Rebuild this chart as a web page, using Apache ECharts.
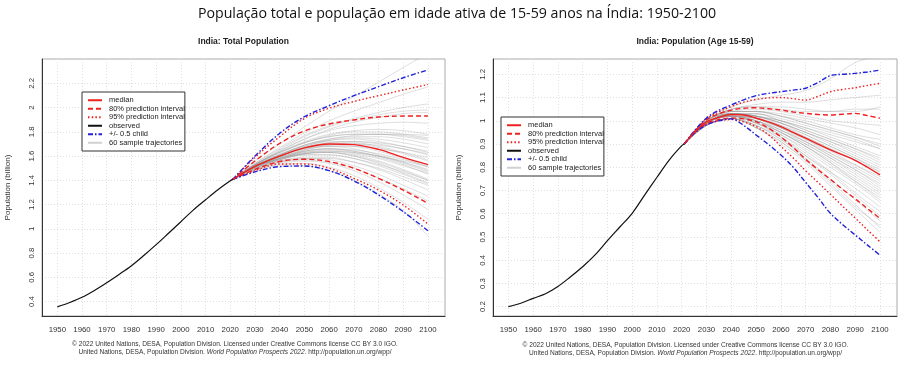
<!DOCTYPE html>
<html><head><meta charset="utf-8">
<script src="https://cdn.jsdelivr.net/npm/echarts@6/dist/echarts.min.js"></script>
<style>html,body{margin:0;padding:0;background:#fff}#c{width:900px;height:375px}</style>
</head><body><div id="c"></div><script>
// ---------- tick labels ----------
const yearTicks = [1950,1960,1970,1980,1990,2000,2010,2020,2030,2040,2050,2060,2070,2080,2090,2100];
const yTicksTotal = [0.4,0.6,0.8,1,1.2,1.4,1.6,1.8,2,2.2];
const yTicksWork = [0.2,0.3,0.4,0.5,0.6,0.7,0.8,0.9,1,1.1,1.2];
const legendNames = ['median','80% prediction interval','95% prediction interval','observed','+/- 0.5 child','60 sample trajectories'];

// ---------- observed ----------
const obsYears = [1950,1955,1960,1965,1970,1975,1980,1985,1990,1995,2000,2005,2010,2015,2020,2021];
const totalObs = [0.357,0.393,0.436,0.493,0.557,0.625,0.697,0.781,0.870,0.964,1.059,1.155,1.240,1.322,1.396,1.408];
const workObs  = [0.200,0.215,0.236,0.256,0.287,0.328,0.372,0.423,0.484,0.543,0.602,0.680,0.757,0.832,0.893,0.900];

// ---------- total population projections (10-year steps) ----------
const projYears10 = [2021,2030,2040,2050,2060,2070,2080,2090,2100];
const totalMedian  = [1.408,1.515,1.600,1.668,1.700,1.695,1.655,1.590,1.530];
const total80Up    = [1.408,1.560,1.705,1.807,1.865,1.898,1.922,1.930,1.930];
const total80Lo    = [1.408,1.490,1.555,1.574,1.555,1.500,1.417,1.320,1.211];
const total95Up    = [1.408,1.590,1.760,1.911,1.994,2.050,2.098,2.145,2.190];
const total95Lo    = [1.408,1.480,1.535,1.535,1.500,1.417,1.320,1.197,1.040];
const totalChildUp = [1.408,1.600,1.788,1.925,2.015,2.098,2.172,2.246,2.310];
const totalChildLo = [1.408,1.470,1.513,1.518,1.480,1.397,1.280,1.142,0.985];

// ---------- working-age projections (5-year steps) ----------
const projYears5 = [2021,2025,2030,2035,2040,2045,2050,2055,2060,2065,2070,2075,2080,2085,2090,2095,2100];
const workMedian  = [0.900,0.950,0.995,1.015,1.027,1.025,1.012,0.995,0.975,0.950,0.925,0.900,0.875,0.853,0.830,0.800,0.767];
const work80Up    = [0.900,0.952,1.005,1.030,1.046,1.054,1.056,1.052,1.046,1.038,1.032,1.027,1.025,1.028,1.032,1.022,1.011];
const work80Lo    = [0.900,0.948,0.988,1.005,1.012,1.008,0.996,0.968,0.931,0.885,0.835,0.790,0.748,0.705,0.665,0.622,0.580];
const work95Up    = [0.900,0.953,1.008,1.038,1.061,1.080,1.092,1.098,1.100,1.095,1.089,1.105,1.125,1.135,1.142,1.152,1.161];
const work95Lo    = [0.900,0.946,0.985,1.000,1.005,0.995,0.975,0.940,0.890,0.840,0.785,0.735,0.684,0.632,0.582,0.530,0.480];
const workChildUp = [0.900,0.955,1.012,1.045,1.068,1.090,1.108,1.118,1.125,1.132,1.140,1.165,1.194,1.200,1.204,1.210,1.218];
const workChildLo = [0.900,0.945,0.982,1.000,1.008,0.980,0.939,0.898,0.853,0.800,0.735,0.670,0.602,0.553,0.509,0.465,0.422];

// ---------- sample trajectories (2021, 2030..2100) ----------
const trajYears = [2021,2030,2040,2050,2060,2070,2080,2090,2100];
const totalTraj = [
 [1.408,1.52,1.61,1.69,1.73,1.74,1.72,1.68,1.63],
 [1.408,1.51,1.58,1.64,1.66,1.64,1.60,1.54,1.47],
 [1.408,1.53,1.64,1.74,1.81,1.85,1.87,1.88,1.87],
 [1.408,1.50,1.57,1.61,1.61,1.58,1.52,1.45,1.37],
 [1.408,1.52,1.60,1.67,1.70,1.70,1.67,1.62,1.56],
 [1.408,1.56,1.70,1.84,1.97,2.09,2.21,2.33,2.45],
 [1.408,1.51,1.58,1.62,1.63,1.60,1.54,1.46,1.38],
 [1.408,1.52,1.61,1.68,1.72,1.72,1.70,1.66,1.61],
 [1.408,1.53,1.63,1.71,1.76,1.78,1.78,1.76,1.73],
 [1.408,1.50,1.56,1.58,1.57,1.52,1.45,1.36,1.27],
 [1.408,1.52,1.59,1.65,1.68,1.68,1.66,1.63,1.59],
 [1.408,1.54,1.66,1.77,1.85,1.91,1.96,2.00,2.03],
 [1.408,1.51,1.58,1.63,1.64,1.62,1.58,1.52,1.46],
 [1.408,1.52,1.60,1.66,1.69,1.68,1.64,1.58,1.51],
 [1.408,1.52,1.61,1.69,1.74,1.76,1.76,1.74,1.70],
 [1.408,1.50,1.56,1.59,1.59,1.55,1.49,1.41,1.32],
 [1.408,1.51,1.59,1.65,1.69,1.70,1.69,1.66,1.62],
 [1.408,1.53,1.63,1.72,1.78,1.81,1.82,1.81,1.78],
 [1.408,1.51,1.57,1.62,1.63,1.61,1.56,1.49,1.41],
 [1.408,1.52,1.60,1.67,1.71,1.72,1.71,1.68,1.64],
 [1.408,1.49,1.54,1.56,1.54,1.48,1.39,1.28,1.16],
 [1.408,1.48,1.52,1.52,1.48,1.40,1.29,1.15,0.94],
 [1.408,1.53,1.65,1.76,1.84,1.90,1.94,1.97,1.98],
 [1.408,1.52,1.60,1.66,1.68,1.66,1.61,1.55,1.48],
 [1.408,1.51,1.58,1.64,1.66,1.65,1.62,1.57,1.52],
 [1.408,1.52,1.61,1.68,1.73,1.75,1.74,1.71,1.67],
 [1.408,1.50,1.55,1.58,1.58,1.55,1.50,1.43,1.36],
 [1.408,1.53,1.62,1.71,1.77,1.80,1.80,1.78,1.75],
 [1.408,1.52,1.59,1.64,1.66,1.64,1.60,1.55,1.49],
 [1.408,1.51,1.57,1.61,1.61,1.58,1.53,1.47,1.40],
 [1.408,1.49,1.53,1.54,1.51,1.44,1.34,1.22,1.08],
 [1.408,1.53,1.64,1.74,1.82,1.88,1.92,1.95,1.96],
 [1.408,1.51,1.58,1.62,1.63,1.60,1.55,1.48,1.40],
 [1.408,1.52,1.60,1.67,1.71,1.71,1.68,1.63,1.57],
 [1.408,1.53,1.63,1.71,1.76,1.78,1.78,1.77,1.74],
 [1.408,1.51,1.57,1.62,1.64,1.63,1.60,1.56,1.51],
 [1.408,1.54,1.67,1.79,1.89,1.97,2.04,2.11,2.17],
 [1.408,1.50,1.55,1.57,1.55,1.50,1.42,1.33,1.23],
 [1.408,1.52,1.61,1.69,1.74,1.77,1.78,1.78,1.77],
 [1.408,1.51,1.58,1.63,1.65,1.63,1.59,1.53,1.45]
];
const workTraj = [
 [0.90,0.99,1.03,1.02,0.99,0.94,0.89,0.84,0.78],
 [0.90,0.99,1.02,1.00,0.96,0.90,0.84,0.78,0.71],
 [0.90,1.00,1.04,1.04,1.03,1.01,0.99,0.97,0.94],
 [0.90,0.99,1.02,0.99,0.94,0.87,0.80,0.73,0.65],
 [0.90,0.99,1.03,1.02,1.00,0.96,0.92,0.88,0.84],
 [0.90,1.01,1.06,1.09,1.11,1.13,1.18,1.25,1.28],
 [0.90,0.99,1.02,0.99,0.93,0.86,0.78,0.69,0.61],
 [0.90,0.99,1.03,1.02,0.99,0.95,0.91,0.86,0.81],
 [0.90,1.00,1.03,1.03,1.01,0.98,0.95,0.92,0.88],
 [0.90,0.98,1.01,0.98,0.92,0.84,0.75,0.66,0.57],
 [0.90,0.99,1.03,1.02,0.99,0.95,0.91,0.87,0.82],
 [0.90,1.00,1.05,1.06,1.05,1.04,1.04,1.05,1.05],
 [0.90,0.99,1.02,1.00,0.96,0.91,0.85,0.79,0.73],
 [0.90,0.99,1.03,1.01,0.97,0.92,0.87,0.81,0.75],
 [0.90,1.00,1.03,1.03,1.00,0.97,0.93,0.89,0.85],
 [0.90,0.98,1.01,0.98,0.93,0.85,0.77,0.68,0.59],
 [0.90,0.99,1.03,1.01,0.98,0.93,0.88,0.83,0.78],
 [0.90,1.00,1.04,1.04,1.02,0.99,0.96,0.93,0.90],
 [0.90,0.99,1.02,0.99,0.95,0.89,0.82,0.75,0.68],
 [0.90,0.99,1.03,1.02,0.99,0.95,0.90,0.85,0.80],
 [0.90,0.98,1.01,0.97,0.91,0.83,0.74,0.64,0.54],
 [0.90,0.98,1.01,0.98,0.92,0.85,0.78,0.71,0.63],
 [0.90,1.00,1.05,1.06,1.06,1.05,1.04,1.04,1.06],
 [0.90,0.99,1.02,1.01,0.97,0.92,0.86,0.80,0.74],
 [0.90,0.99,1.02,1.01,0.97,0.93,0.88,0.83,0.77],
 [0.90,1.00,1.03,1.03,1.00,0.96,0.92,0.88,0.83],
 [0.90,0.99,1.02,0.99,0.94,0.88,0.81,0.74,0.67],
 [0.90,1.00,1.04,1.04,1.02,0.99,0.96,0.93,0.89],
 [0.90,0.99,1.02,1.01,0.97,0.91,0.85,0.79,0.72],
 [0.90,0.99,1.02,1.00,0.95,0.90,0.84,0.77,0.70],
 [0.90,0.98,1.01,0.97,0.90,0.82,0.72,0.62,0.52],
 [0.90,1.00,1.04,1.05,1.04,1.02,1.00,0.99,0.98],
 [0.90,0.99,1.02,1.00,0.95,0.89,0.83,0.76,0.69],
 [0.90,0.99,1.03,1.02,0.98,0.94,0.89,0.84,0.79],
 [0.90,1.00,1.04,1.04,1.02,1.00,0.97,0.94,0.92],
 [0.90,0.99,1.02,1.01,0.96,0.91,0.86,0.81,0.76],
 [0.90,1.00,1.05,1.07,1.08,1.08,1.09,1.10,1.11],
 [0.90,0.98,1.01,0.97,0.91,0.83,0.73,0.63,0.55],
 [0.90,0.99,1.03,1.02,1.00,0.97,0.94,0.91,0.88],
 [0.90,0.99,1.02,1.00,0.95,0.89,0.82,0.74,0.66]
];

// ---------- styles ----------
const RED = '#ee2020', BLUE = '#2020d8';
const FONT = 'Liberation Sans, Arial, sans-serif';
const S = {
  median: {color: RED, width: 1.4, type: 'solid'},
  p80: {color: RED, width: 1.4, type: [5, 3]},
  p95: {color: RED, width: 1.4, type: [1.5, 2.2]},
  obs: {color: '#111', width: 1.2, type: 'solid'},
  child: {color: BLUE, width: 1.4, type: [5, 2, 1.5, 2]},
  traj: {color: 'rgba(150,150,150,0.45)', width: 0.7, type: 'solid'}
};

function mk(name, xs, ys, style, idx, z, smooth) {
  return {
    type: 'line', name, xAxisIndex: idx, yAxisIndex: idx,
    data: xs.map((x, i) => [x, ys[i]]),
    symbol: 'none', showSymbol: false, smooth: smooth ? 0.35 : false,
    color: style.color, lineStyle: style, z, silent: true, animation: false, clip: true
  };
}

const series = [];
function addChart(idx, obs, traj, med, u80, l80, u95, l95, cu, cl, pys) {
  traj.forEach(t => series.push(mk(legendNames[5], trajYears, t, S.traj, idx, 1, true)));
  series.push(mk(legendNames[1], pys, u80, S.p80, idx, 3, true));
  series.push(mk(legendNames[1], pys, l80, S.p80, idx, 3, true));
  series.push(mk(legendNames[2], pys, u95, S.p95, idx, 3, true));
  series.push(mk(legendNames[2], pys, l95, S.p95, idx, 3, true));
  series.push(mk(legendNames[4], pys, cu, S.child, idx, 4, true));
  series.push(mk(legendNames[4], pys, cl, S.child, idx, 4, true));
  series.push(mk(legendNames[0], pys, med, S.median, idx, 5, true));
  series.push(mk(legendNames[3], obsYears, obs, S.obs, idx, 6, true));
}
addChart(0, totalObs, totalTraj, totalMedian, total80Up, total80Lo, total95Up, total95Lo, totalChildUp, totalChildLo, projYears10);
addChart(1, workObs, workTraj, workMedian, work80Up, work80Lo, work95Up, work95Lo, workChildUp, workChildLo, projYears5);

const gridLine = {show: true, lineStyle: {color: '#d8d8d8', width: 0.8, type: [1, 2]}};
const axLine = {show: true, onZero: false, lineStyle: {color: '#333', width: 1}};
function xAx(idx) {
  return {
    type: 'value', gridIndex: idx, min: 1943.8, max: 2106.9,
    axisLine: axLine,
    axisTick: {show: false, customValues: yearTicks},
    axisLabel: {customValues: yearTicks, formatter: v => String(v), fontSize: 7.8, color: '#333', fontFamily: FONT, margin: 10},
    splitLine: gridLine
  };
}
function yAx(idx, min, max, ticks) {
  return {
    type: 'value', gridIndex: idx, min, max,
    name: 'Population (billion)', nameLocation: 'middle', nameGap: 30,
    nameTextStyle: {fontSize: 8, color: '#333', fontFamily: FONT},
    axisLine: axLine,
    axisTick: {show: false, customValues: ticks},
    axisLabel: {customValues: ticks, formatter: v => String(v), rotate: 90, fontSize: 7.8, color: '#333', fontFamily: FONT, margin: 6},
    splitLine: gridLine
  };
}
function legendAt(left, top) {
  return {
    data: legendNames, orient: 'vertical', left, top, selectedMode: false,
    itemWidth: 14, itemHeight: 8.5, itemGap: 0,
    itemStyle: {opacity: 0},
    padding: [4, 0, 4, 5], backgroundColor: '#fff', borderColor: '#333', borderWidth: 1,
    textStyle: {fontSize: 7.5, color: '#222', fontFamily: FONT, lineHeight: 8.5, padding: [0, 0, 0, 2]}
  };
}

const chart = echarts.init(document.getElementById('c'), null, {renderer: 'canvas'});
chart.setOption({
  animation: false,
  backgroundColor: '#fff',
  grid: [
    {left: 42, top: 59, width: 403, height: 257, show: true, borderColor: '#aaa', borderWidth: 1, backgroundColor: 'transparent'},
    {left: 493, top: 59, width: 404, height: 257, show: true, borderColor: '#aaa', borderWidth: 1, backgroundColor: 'transparent'}
  ],
  xAxis: [xAx(0), xAx(1)],
  yAxis: [yAx(0, 0.2821, 2.4003, yTicksTotal), yAx(1, 0.16, 1.2658, yTicksWork)],
  legend: [legendAt(82, 92), legendAt(501, 117)],
  series,
  graphic: [
    {type: 'text', x: 457, y: 14, style: {text: 'População total e população em idade ativa de 15-59 anos na Índia: 1950-2100', font: '14.2px "Open Sans", sans-serif', fill: '#111', align: 'center', verticalAlign: 'middle'}},
    {type: 'text', x: 243.5, y: 42, style: {text: 'India: Total Population', font: 'bold 8.5px ' + FONT, fill: '#222', align: 'center', verticalAlign: 'middle'}},
    {type: 'text', x: 695, y: 42, style: {text: 'India: Population (Age 15-59)', font: 'bold 8.5px ' + FONT, fill: '#222', align: 'center', verticalAlign: 'middle'}},
    {type: 'text', x: 235, y: 344.5, style: {text: '© 2022 United Nations, DESA, Population Division. Licensed under Creative Commons license CC BY 3.0 IGO.', font: '6.6px ' + FONT, fill: '#333', align: 'center', verticalAlign: 'middle'}},
    {type: 'text', x: 235, y: 352.5, style: {text: 'United Nations, DESA, Population Division. {i|World Population Prospects 2022}. http://population.un.org/wpp/', font: '6.6px ' + FONT, fill: '#333', align: 'center', verticalAlign: 'middle', rich: {i: {fontStyle: 'italic', fontSize: 6.6, fontFamily: FONT, fill: '#333'}}}},
    {type: 'text', x: 685.5, y: 345, style: {text: '© 2022 United Nations, DESA, Population Division. Licensed under Creative Commons license CC BY 3.0 IGO.', font: '6.6px ' + FONT, fill: '#333', align: 'center', verticalAlign: 'middle'}},
    {type: 'text', x: 685.5, y: 353, style: {text: 'United Nations, DESA, Population Division. {i|World Population Prospects 2022}. http://population.un.org/wpp/', font: '6.6px ' + FONT, fill: '#333', align: 'center', verticalAlign: 'middle', rich: {i: {fontStyle: 'italic', fontSize: 6.6, fontFamily: FONT, fill: '#333'}}}}
  ]
});
</script></body></html>
